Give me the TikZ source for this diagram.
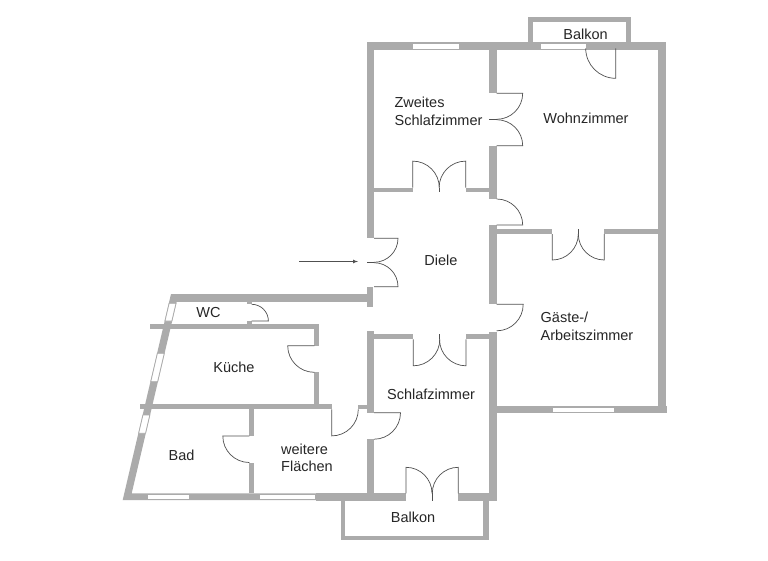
\documentclass[tikz,border=0pt]{standalone}
\usepackage{fontspec}
\setmainfont{Liberation Sans}
\definecolor{wallgray}{HTML}{ABABAB}
\definecolor{doorgray}{HTML}{505050}
\tikzset{
  wall/.style={fill=wallgray,draw=none},
  door/.style={draw=doorgray,line width=0.7pt},
  windowpane/.style={fill=white,draw=wallgray,line width=0.8pt},
  room/.style={font=\fontsize{14.5}{17.5}\selectfont,align=left,text=black!85,inner sep=0pt},
}
\begin{document}
\begin{tikzpicture}[x=1pt,y=-1pt]
\useasboundingbox[fill=white] (0,0) rectangle (768,560);
% walls
\foreach \xa/\ya/\xb/\yb in {
  366.7/42.3/666/50, 366.7/42.3/374/238.3, 658.3/42.3/666/413.3,
  528.3/16.7/533.3/42.3, 528.3/16.7/630.7/21.7, 625.7/16.7/630.7/42.3,
  489.3/50/496.7/93.3, 489.3/145.7/496.7/199, 489.3/225/496.7/304.3, 489.3/331.7/496.7/500.7,
  374/187.7/412.7/192.3, 465.7/187.7/489.3/192.3,
  496.7/229.3/552.3/234, 604.3/229.3/658.3/234, 496.7/406/666.7/413.3,
  366.7/286.7/373.3/307.3, 171/294/366.7/301.7,
  367/331/374/412.7, 367/439.3/374/493.3, 374/334.3/413.3/339.3, 466/334.3/489.3/339.3,
  316/493.3/406/500.7, 458.3/493.3/496.7/500.7,
  340.7/500.7/345.3/540, 340.7/536/488.7/540, 483.3/500.7/488.7/540,
  150/324.3/319.3/329.3, 314.3/329.3/319.3/345.7, 314.3/372.3/319.3/404.3,
  140/404.3/331.7/409.3, 358.3/404.7/367/409.3,
  249.3/409.3/254.3/436, 249.3/462.7/254.3/493.3,
  246.7/301.7/251.7/304, 246.7/321/251.7/324.3}
  \fill[wall] (\xa,\ya) rectangle (\xb,\yb);
% slanted wall and bottom wall
\fill[wall] (171,294) -- (122.7,500) -- (316,500) -- (316,493.3) -- (131.7,493.3) -- (176.7,301.7) -- cycle;
% windows
\foreach \xa/\ya/\xb/\yb in {
  412/43/459/49.5, 540/43/586/49.5, 552/407/614/412.5,
  147/494/189/499.5, 259.5/494/315/499.5}
  \draw[windowpane] (\xa,\ya) rectangle (\xb,\yb);
\foreach \ya/\yb in {303.3/321, 353.3/381.7, 415/433.3}
  \draw[windowpane] ({171-0.2345*(\ya-294)+0.3},\ya) -- ({171-0.2345*(\yb-294)+0.3},\yb)
    -- ({178.5-0.2345*(\yb-294)-0.3},\yb) -- ({178.5-0.2345*(\ya-294)-0.3},\ya) -- cycle;
% doors
\foreach \px/\py/\sa/\da/\rd in {
  615.7/48.3/-90/-90/30,
  496.7/93.3/0/-90/26, 496.7/145.7/0/90/26,
  412.7/187.7/90/-90/26.6, 465.7/187.7/90/90/26.6,
  496.7/225/0/90/26,
  552.3/234/-90/90/26, 604.3/234/-90/-90/26,
  374/238.3/0/-90/24, 374/286.7/0/90/24,
  496.7/304.3/0/-90/26.5,
  413.3/339.3/-90/90/26.5, 466/339.3/-90/-90/26.5,
  374/412.7/0/-90/26.5,
  406/493.3/90/-90/26, 458.3/493.3/90/90/26,
  249.3/436/180/90/26.5,
  331.7/409.3/-90/90/26.6,
  314.3/345.7/180/90/26.6,
  251.7/321/0/90/16.7}
  \draw[door] (\px,\py) -- ++(\sa:\rd pt) arc[start angle=\sa,delta angle=\da,radius=\rd pt];
\draw[door] (374,262.3) -- (367,262.3);
\draw[door] (496.7,119.3) -- (489.3,119.3);
\draw[door] (439.3,187.7) -- (439.3,192);
\draw[door] (578.3,234) -- (578.3,229);
\draw[door] (439.7,339.3) -- (439.7,334.3);
\draw[door] (432.2,493.3) -- (432.2,500.7);
% entrance
\coordinate (entrystart) at (299,261.5);
\coordinate (entryend) at (358,261.5);
\draw[door,->,>=latex] (entrystart) -- (entryend);
% rooms
\node[room] (balkontop) at (585.5,34) {Balkon};
\node[room] (zweites) at (438.5,111.5) {Zweites\\Schlafzimmer};
\node[room] (wohnzimmer) at (586,118) {Wohnzimmer};
\node[room] (diele) at (441,260) {Diele};
\node[room] (gaeste) at (587,326.5) {Gäste-/\\Arbeitszimmer};
\node[room] (wc) at (208.5,312.5) {WC};
\node[room] (kueche) at (234,367.5) {Küche};
\node[room] (schlafzimmer) at (431,394) {Schlafzimmer};
\node[room] (bad) at (181.5,455) {Bad};
\node[room] (flaechen) at (307,458) {weitere\\Flächen};
\node[room] (balkonbottom) at (413,517.5) {Balkon};
\end{tikzpicture}
\end{document}
